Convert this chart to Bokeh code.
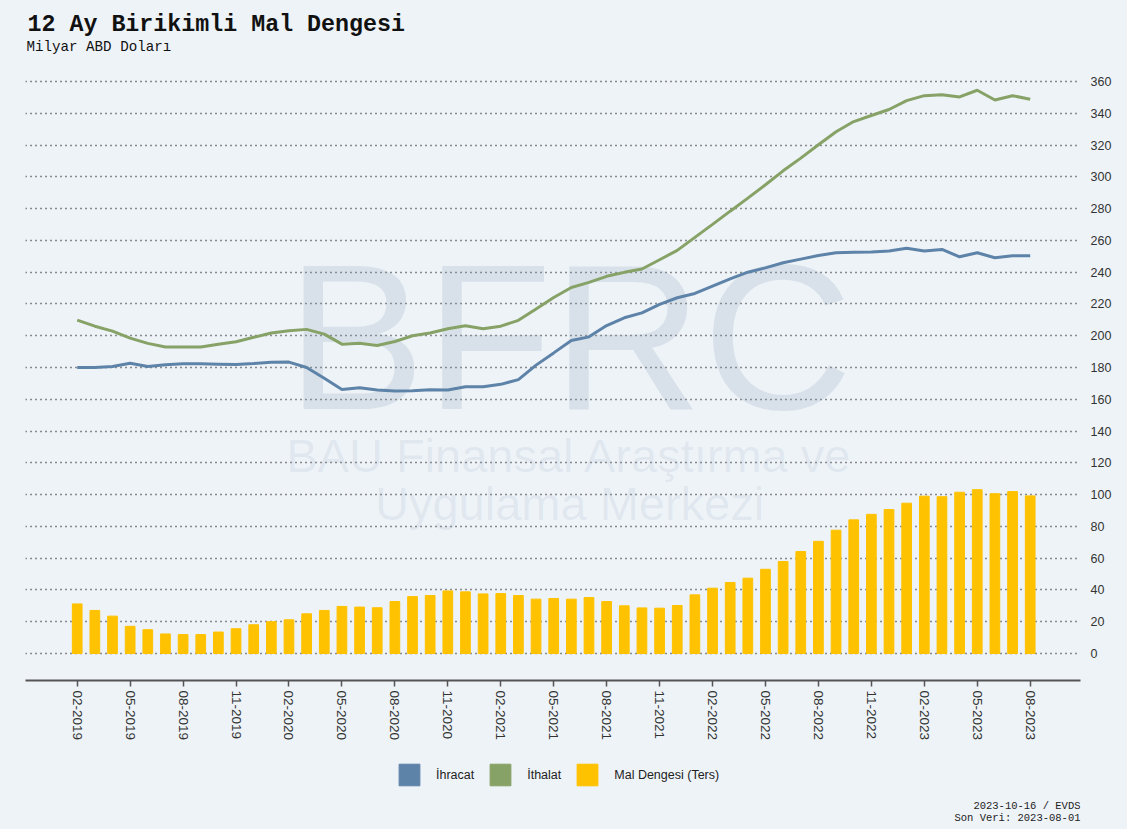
import pandas as pd
from bokeh.plotting import figure
from bokeh.layouts import column
from bokeh.models import (ColumnDataSource, FixedTicker, Legend, LegendItem,
                          Label, Range1d)
from bokeh.embed import file_html
from bokeh.resources import INLINE

# ---- data -------------------------------------------------------------
months = [d.strftime("%m-%Y") for d in pd.date_range("2019-02-01", "2023-08-01", freq="MS")]

ihracat = [180.0, 180.0, 180.6, 182.7, 180.6, 181.7, 182.3, 182.3, 182.1, 181.9,
           182.5, 183.3, 183.4, 180.0, 173.2, 166.2, 167.3, 165.8, 165.2, 165.4,
           166.0, 165.8, 167.9, 167.9, 169.4, 172.4, 181.5, 189.2, 197.0, 199.3,
           206.4, 211.3, 214.4, 219.7, 223.9, 226.6, 231.2, 235.8, 240.0, 242.7,
           245.9, 248.2, 250.5, 252.2, 252.6, 252.7, 253.3, 255.0, 253.3, 254.3,
           249.7, 252.2, 249.1, 250.4, 250.4]

ithalat = [209.8, 206.0, 202.9, 198.5, 195.2, 192.9, 192.9, 192.9, 194.6, 196.2,
           199.0, 201.7, 203.2, 204.0, 201.0, 194.7, 195.3, 193.9, 196.4, 200.0,
           201.7, 204.4, 206.3, 204.4, 206.0, 209.7, 216.8, 224.1, 230.4, 233.6,
           237.4, 239.9, 242.0, 247.8, 253.7, 261.9, 270.1, 278.4, 286.6, 295.0,
           303.8, 311.8, 320.2, 328.4, 334.8, 338.6, 342.4, 348.0, 351.1, 351.7,
           350.3, 354.5, 348.4, 351.1, 348.8]

mal_dengesi = [31.2, 27.1, 23.5, 17.1, 15.0, 12.3, 11.9, 11.9, 13.5, 15.6,
               18.1, 20.0, 21.2, 25.0, 27.1, 29.6, 29.2, 28.8, 32.7, 35.8,
               36.5, 39.4, 38.8, 37.5, 37.7, 36.5, 34.2, 34.6, 34.2, 35.2,
               32.7, 30.0, 28.7, 28.5, 30.2, 36.9, 41.1, 44.7, 47.4, 53.0,
               57.9, 64.2, 70.6, 77.6, 84.1, 87.6, 90.6, 94.6, 99.0, 98.7,
               101.5, 103.1, 100.6, 101.9, 99.2]

y_ticks = list(range(0, 361, 20))
series_labels = ["İhracat", "İthalat", "Mal Dengesi (Ters)"]

# ---- styles -----------------------------------------------------------
BG = "#EEF3F8"
BLUE = "#5E83A8"
GREEN = "#87A266"
YELLOW = "#FFC200"
MONO = "Liberation Mono"
SANS = "Liberation Sans"

idx = list(range(len(months)))
src = ColumnDataSource(dict(x=idx, month=months, exp=ihracat, imp=ithalat, bal=mal_dengesi))

W = 1127
H_HEAD = 68
H_MAIN = 684
H_FOOT = 77


def strip(height):
    s = figure(width=W, height=height, output_backend="svg", toolbar_location=None,
               x_range=Range1d(0, 1), y_range=Range1d(0, 1), title=None,
               x_axis_type=None, y_axis_type=None,
               min_border_left=0, min_border_right=0, min_border_top=0, min_border_bottom=0,
               background_fill_color=BG, border_fill_color=BG, outline_line_color=None,
               styles={"background-color": BG})
    s.xgrid.visible = False
    s.ygrid.visible = False
    return s


# ---- header ------------------------------------------------------------
h = strip(H_HEAD)
h.add_layout(Label(x=2, y=44, x_units="screen", y_units="screen",
                   text="12 Ay Birikimli Mal Dengesi", text_align="left",
                   text_baseline="middle", text_font=MONO, text_font_size="23.3px",
                   text_font_style="bold", text_color="#111111"))
h.add_layout(Label(x=1, y=22, x_units="screen", y_units="screen",
                   text="Milyar ABD Doları", text_align="left",
                   text_baseline="middle", text_font=MONO, text_font_size="14.2px",
                   text_color="#111111"))

# ---- main chart --------------------------------------------------------
p = figure(width=W, height=H_MAIN, output_backend="svg", toolbar_location=None,
           x_range=Range1d(-2.93, 56.85), y_range=Range1d(-17, 368.2),
           y_axis_location="right", title=None,
           min_border_left=25, min_border_right=47, min_border_top=0,
           min_border_bottom=72,
           background_fill_color=BG, border_fill_color=BG, outline_line_color=None,
           styles={"background-color": BG})

# watermark
wm_color = "#8499AF"
p.add_layout(Label(x=27.9, y=199, text="BFRC", text_align="center", text_baseline="middle",
                   text_font=SANS, text_font_size="208px", text_color=wm_color,
                   text_alpha=0.2, level="underlay"))
p.add_layout(Label(x=27.9, y=124.6, text="BAU Finansal Araştırma ve", text_align="center",
                   text_baseline="middle", text_font=SANS, text_font_size="47px",
                   text_color=wm_color, text_alpha=0.13, level="underlay"))
p.add_layout(Label(x=27.9, y=94.4, text="Uygulama Merkezi", text_align="center",
                   text_baseline="middle", text_font=SANS, text_font_size="47px",
                   text_color=wm_color, text_alpha=0.13, level="underlay"))

p.vbar(x="x", top="bal", bottom=0, width=0.55, source=src,
       fill_color=YELLOW, line_color=YELLOW)
p.line(x="x", y="exp", source=src, line_color=BLUE, line_width=3)
p.line(x="x", y="imp", source=src, line_color=GREEN, line_width=3)

xa = p.xaxis[0]
xa.ticker = FixedTicker(ticks=idx[::3])
xa.major_label_overrides = {i: months[i] for i in idx[::3]}
xa.major_label_orientation = "vertical"
xa.major_label_text_font = SANS
xa.major_label_text_font_size = "13.5px"
xa.major_label_text_color = "#333333"
xa.axis_line_color = "#555555"
xa.axis_line_width = 2
xa.major_tick_line_color = "#555555"
xa.major_tick_line_width = 1.5
xa.major_tick_out = 6
xa.major_tick_in = 0
xa.minor_tick_line_color = None
xa.major_label_standoff = 4

ya = p.yaxis[0]
ya.ticker = FixedTicker(ticks=y_ticks)
ya.axis_line_color = None
ya.major_tick_line_color = None
ya.major_tick_out = 0
ya.major_tick_in = 0
ya.minor_tick_line_color = None
ya.minor_tick_out = 0
ya.major_label_text_font = SANS
ya.major_label_text_font_size = "12.5px"
ya.major_label_text_color = "#333333"
ya.major_label_standoff = 10

p.xgrid.visible = False
p.ygrid.grid_line_color = "#222222"
p.ygrid.grid_line_dash = "1 4"
p.ygrid.grid_line_width = 1.3

# ---- footer: legend + source notes --------------------------------------
f = strip(H_FOOT)
nan = float("nan")
sw = [f.vbar(x=[nan], top=[nan], width=0.5, fill_color=c, line_color=c)
      for c in (BLUE, GREEN, YELLOW)]

legend = Legend(items=[LegendItem(label=lab, renderers=[r]) for lab, r in zip(series_labels, sw)],
                orientation="horizontal", location=(371, 41),
                glyph_width=26, glyph_height=27, label_standoff=14, spacing=13,
                label_text_font=SANS, label_text_font_size="12.5px",
                label_text_color="#222222",
                background_fill_alpha=0, border_line_color=None,
                padding=6, margin=0)
f.add_layout(legend)

f.add_layout(Label(x=1055, y=24, x_units="screen", y_units="screen",
                   text="2023-10-16 / EVDS", text_align="right", text_baseline="middle",
                   text_font=MONO, text_font_size="10.5px", text_color="#222222"))
f.add_layout(Label(x=1055, y=12, x_units="screen", y_units="screen",
                   text="Son Veri: 2023-08-01", text_align="right", text_baseline="middle",
                   text_font=MONO, text_font_size="10.5px", text_color="#222222"))

layout = column(h, p, f, spacing=0, styles={"background-color": BG})
open("out.html", "w").write(file_html(layout, INLINE))
